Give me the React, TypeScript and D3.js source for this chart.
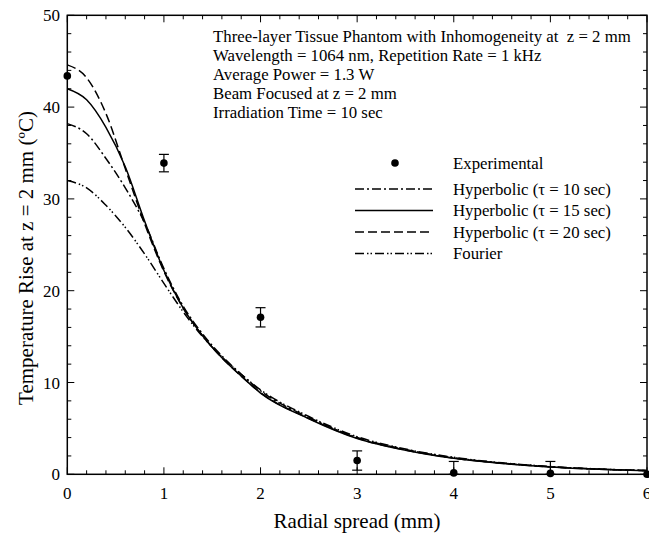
import React from "react";
import * as d3 from "d3";

const xs = [0, 0.2, 0.4, 0.6, 0.8, 1.0, 1.2, 1.4, 1.6, 1.8, 2.0, 2.5, 3.0, 3.5, 4.0, 4.5, 5.0, 5.5, 6.0];
const hyp10 = [38.2, 37.1, 34.4, 31.2, 27.4, 22.4, 18.3, 15.3, 12.9, 10.9, 9.1, 6.2, 4.0, 2.7, 1.8, 1.22, 0.82, 0.57, 0.41];
const hyp15 = [42.0, 40.8, 37.8, 33.5, 27.6, 22.2, 18.1, 15.1, 12.7, 10.7, 8.85, 6.05, 3.9, 2.62, 1.74, 1.18, 0.8, 0.55, 0.39];
const hyp20 = [44.6, 43.2, 39.3, 33.3, 27.3, 22.1, 18.1, 15.1, 12.7, 10.7, 8.9, 6.1, 3.95, 2.65, 1.76, 1.2, 0.8, 0.56, 0.4];
const fourier = [32.0, 31.2, 29.3, 26.9, 24.0, 20.8, 17.7, 15.0, 12.8, 10.9, 9.2, 6.3, 4.1, 2.75, 1.85, 1.25, 0.85, 0.58, 0.42];

const expX = [0, 1, 2, 3, 4, 5, 6];
const expY = [43.4, 33.9, 17.1, 1.5, 0.15, 0.1, 0.0];
const expErr = [0, 0.95, 1.05, 1.05, 1.25, 1.3, 0];

const xTicks = [0, 1, 2, 3, 4, 5, 6];
const yTicks = [0, 10, 20, 30, 40, 50];

const infoLines = [
  "Three-layer Tissue Phantom with Inhomogeneity at  z = 2 mm",
  "Wavelength = 1064 nm, Repetition Rate = 1 kHz",
  "Average Power = 1.3 W",
  "Beam Focused at z = 2 mm",
  "Irradiation Time = 10 sec",
];

const seriesNames = ["Hyperbolic (τ = 10 sec)", "Hyperbolic (τ = 15 sec)", "Hyperbolic (τ = 20 sec)", "Fourier"];
const seriesData = [hyp10, hyp15, hyp20, fourier];
const seriesDash = ["9,3,2,3", "none", "9,4", "9,3,1.5,2,1.5,3"];

const FONT = "'Liberation Serif', 'Times New Roman', serif";

export default function App() {
  const W = 649, H = 536;
  const left = 67.3, right = 647, top = 15.3, bottom = 474.3;
  const x = d3.scaleLinear().domain([0, 6]).range([left, right]);
  const y = d3.scaleLinear().domain([0, 50]).range([bottom, top]);
  const line = d3.line<number>().x((_, i) => x(xs[i])).y((d) => y(d)).curve(d3.curveMonotoneX);

  const xMinor = d3.range(0, 6.0001, 0.2);
  const yMinor = d3.range(0, 50.0001, 2);

  return (
    <svg width={W} height={H} style={{ position: "absolute", left: 0, top: 0, background: "#fff" }} fontFamily={FONT}>
      <defs>
        <clipPath id="clip">
          <rect x={left} y={top} width={right - left} height={bottom - top} />
        </clipPath>
      </defs>
      <g clipPath="url(#clip)">
        {seriesData.map((s, i) => (
          <path key={i} d={line(s) || ""} fill="none" stroke="#000" strokeWidth={1.5}
            strokeDasharray={seriesDash[i] === "none" ? undefined : seriesDash[i]} />
        ))}
      </g>
      {expX.map((xv, i) => (
        <g key={i}>
          {expErr[i] > 0 && (
            <g stroke="#000" strokeWidth={1.2}>
              <line x1={x(xv)} x2={x(xv)} y1={y(expY[i] + expErr[i])} y2={y(Math.max(0, expY[i] - expErr[i]))} />
              <line x1={x(xv) - 5} x2={x(xv) + 5} y1={y(expY[i] + expErr[i])} y2={y(expY[i] + expErr[i])} />
              <line x1={x(xv) - 5} x2={x(xv) + 5} y1={y(Math.max(0, expY[i] - expErr[i]))} y2={y(Math.max(0, expY[i] - expErr[i]))} />
            </g>
          )}
          <circle cx={x(xv)} cy={y(expY[i])} r={3.8} fill="#000" />
        </g>
      ))}
      <rect x={left} y={top} width={right - left} height={bottom - top} fill="none" stroke="#000" strokeWidth={1.5} />
      <g stroke="#000" strokeWidth={1}>
        {xMinor.map((t, i) => {
          const major = Math.abs(t - Math.round(t)) < 1e-6;
          const len = major ? 7 : 4;
          return (
            <g key={"xm" + i}>
              <line x1={x(t)} x2={x(t)} y1={bottom} y2={bottom - len} />
              <line x1={x(t)} x2={x(t)} y1={top} y2={top + len} />
            </g>
          );
        })}
        {yMinor.map((t, i) => {
          const major = t % 10 === 0;
          const len = major ? 7 : 4;
          return (
            <g key={"ym" + i}>
              <line x1={left} x2={left + len} y1={y(t)} y2={y(t)} />
              <line x1={right} x2={right - len} y1={y(t)} y2={y(t)} />
            </g>
          );
        })}
      </g>
      {xTicks.map((t) => (
        <text key={"xt" + t} x={x(t)} y={499} fontSize={17} textAnchor="middle">{t}</text>
      ))}
      {yTicks.map((t) => (
        <text key={"yt" + t} x={60} y={y(t) + 6} fontSize={17} textAnchor="end">{t}</text>
      ))}
      <text x={357} y={528} fontSize={21} textAnchor="middle">Radial spread (mm)</text>
      <text transform={`translate(33,258) rotate(-90)`} fontSize={21} textAnchor="middle">Temperature Rise at z = 2 mm (ºC)</text>
      {infoLines.map((l, i) => (
        <text key={"in" + i} x={213} y={42 + i * 19} fontSize={16.8} style={{ whiteSpace: "pre" }}>{l}</text>
      ))}
      <circle cx={395} cy={163} r={3.8} fill="#000" />
      <text x={453} y={168.5} fontSize={16.8}>Experimental</text>
      {seriesNames.map((n, i) => {
        const yy = 189 + i * 21.5;
        return (
          <g key={"lg" + i}>
            <line x1={355} x2={433} y1={yy} y2={yy} stroke="#000" strokeWidth={1.5}
              strokeDasharray={seriesDash[i] === "none" ? undefined : seriesDash[i]} />
            <text x={453} y={yy + 5.5} fontSize={16.8}>{n}</text>
          </g>
        );
      })}
    </svg>
  );
}
